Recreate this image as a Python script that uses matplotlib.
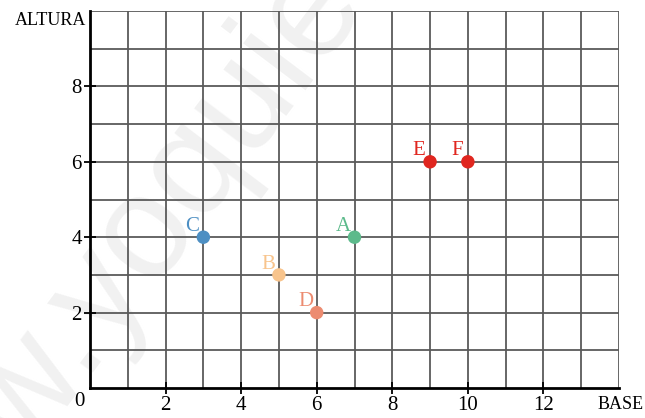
import matplotlib
matplotlib.use("Agg")
import matplotlib.pyplot as plt

plt.rcParams['font.family'] = ['Liberation Serif', 'DejaVu Serif']

names = ["A", "B", "C", "D", "E", "F"]
xs = [7, 5, 3, 6, 9, 10]
ys = [4, 3, 4, 2, 6, 6]
colors = ["#5cba8b", "#f8c48c", "#4d8fc3", "#ec8b70", "#e0261f", "#e0261f"]
xticks = [2, 4, 6, 8, 10, 12]
yticks = [2, 4, 6, 8]

fig = plt.figure(figsize=(6.45, 4.18), dpi=100)
ax = fig.add_axes([90 / 645, 30 / 418, 529 / 645, 377 / 418])
ax.set_xlim(0, 14)
ax.set_ylim(0, 10)
ax.patch.set_alpha(0)

# faint watermark behind everything
fig.text(-100 / 645, -211 / 418, "www.yoquieroaprobar.es", fontsize=105,
         color="#f1f1f1", rotation=53, rotation_mode="anchor", ha="left",
         va="baseline", family="Liberation Sans", zorder=-5)

for g in range(1, 15):
    ax.axvline(g, color="#5a5a5a", lw=1.3, zorder=1)
for g in range(1, 11):
    ax.axhline(g, color="#5a5a5a", lw=1.3, zorder=1)

for s in ["top", "right"]:
    ax.spines[s].set_visible(False)
ax.spines["left"].set_linewidth(2)
ax.spines["bottom"].set_linewidth(2)
ax.spines["left"].set_zorder(3)
ax.spines["bottom"].set_zorder(3)

ax.set_xticks(xticks)
ax.set_yticks(yticks)
ax.tick_params(direction="inout", length=8, width=1.3, labelsize=15, pad=2)

ax.scatter(xs, ys, s=75, c=colors, zorder=5, clip_on=False)
for n, x, y, c in zip(names, xs, ys, colors):
    ax.annotate(n, (x, y), xytext=(-8, 1), textcoords="offset points",
                ha="center", va="bottom", color=c, fontsize=15, zorder=6)

ax.text(-0.15, -0.1, "0", ha="right", va="top", fontsize=15)
ax.text(14.05, -0.2, "BASE", ha="center", va="top", fontsize=13)
ax.text(-0.1, 9.75, "ALTURA", ha="right", va="center", fontsize=13)

fig.savefig("out.png", dpi=100)
